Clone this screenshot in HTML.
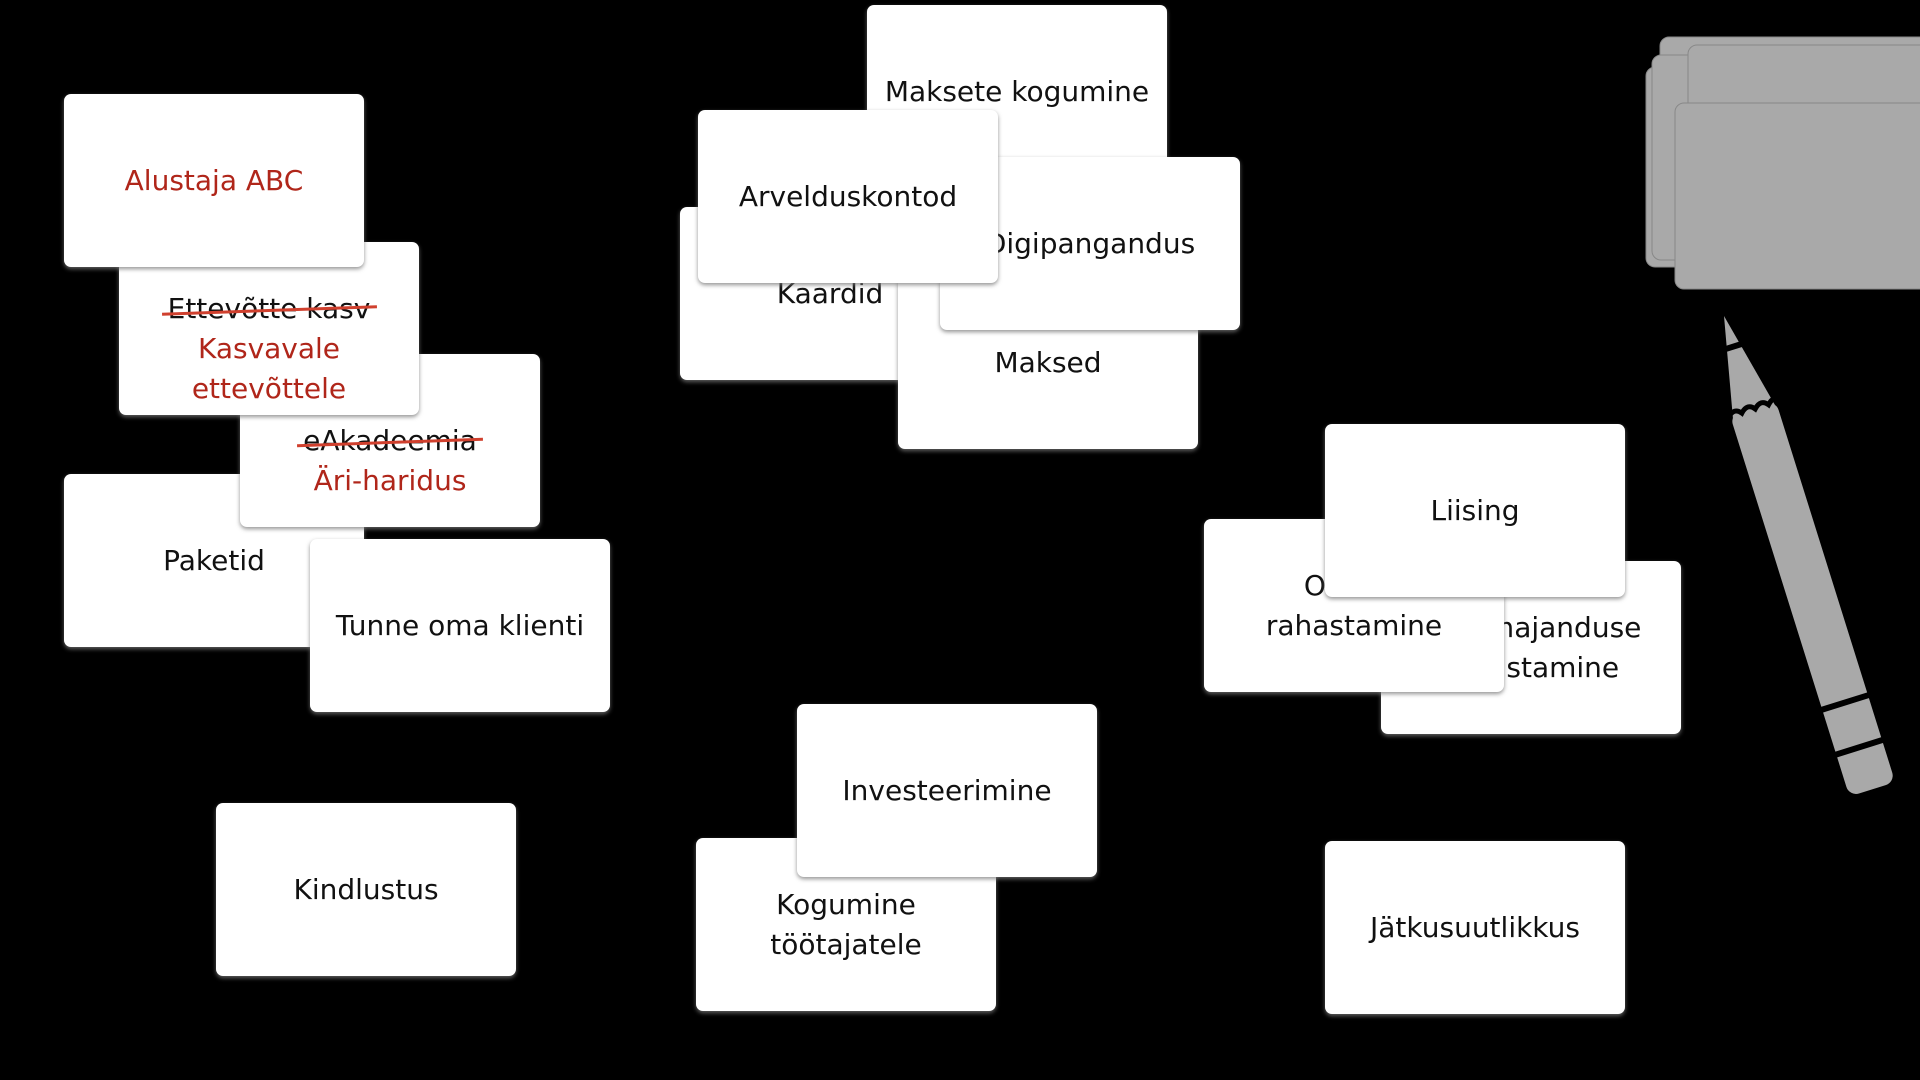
<!DOCTYPE html>
<html><head><meta charset="utf-8"><style>
body{margin:0;width:1920px;height:1080px;background:#000;position:relative;overflow:hidden;font-family:"Comic Sans MS","DejaVu Sans","Liberation Sans",sans-serif;}
.c{position:absolute;width:300px;height:173px;background:#fff;border-radius:7px;box-shadow:0 2px 4px rgba(120,120,120,.8);display:flex;align-items:center;justify-content:center;text-align:center;font-size:28px;line-height:40px;color:#111;}
.r{color:#b0261a}
.s{position:relative;display:inline-block}
.s:after{content:"";position:absolute;left:-6px;right:-6px;top:52%;height:3px;background:#d0402e;transform:rotate(-2deg)}
.d{padding-top:40px;box-sizing:border-box}
</style></head><body>
<div class="c" style="left:867px;top:5px;">Maksete kogumine</div>
<div class="c" style="left:680px;top:207px;">Kaardid</div>
<div class="c" style="left:898px;top:276px;">Maksed</div>
<div class="c" style="left:940px;top:157px;">Digipangandus</div>
<div class="c" style="left:698px;top:110px;">Arvelduskontod</div>

<div class="c" style="left:64px;top:474px;">Paketid</div>
<div class="c d" style="left:240px;top:354px;"><div><span class="s">eAkadeemia</span><br><span class="r">Äri-haridus</span></div></div>
<div class="c d" style="left:119px;top:242px;"><div><span class="s">Ettevõtte kasv</span><br><span class="r">Kasvavale<br>ettevõttele</span></div></div>
<div class="c r" style="left:64px;top:94px;">Alustaja ABC</div>
<div class="c" style="left:310px;top:539px;">Tunne oma klienti</div>
<div class="c" style="left:216px;top:803px;">Kindlustus</div>

<div class="c" style="left:696px;top:838px;">Kogumine<br>töötajatele</div>
<div class="c" style="left:797px;top:704px;">Investeerimine</div>

<div class="c" style="left:1381px;top:561px;">Põllumajanduse<br>rahastamine</div>
<div class="c" style="left:1204px;top:519px;">Ostude<br>rahastamine</div>
<div class="c" style="left:1325px;top:424px;">Liising</div>
<div class="c" style="left:1325px;top:841px;">Jätkusuutlikkus</div>

<svg width="1920" height="1080" style="position:absolute;left:0;top:0">
<g fill="#a9a9a9" stroke="#888" stroke-width="1">
<rect x="1660" y="37" width="280" height="200" rx="9"/>
<rect x="1646" y="67" width="290" height="200" rx="9"/>
<rect x="1652" y="55" width="290" height="205" rx="9"/>
<rect x="1688" y="45" width="260" height="190" rx="9"/>
<rect x="1675" y="103" width="270" height="186" rx="9"/>
</g>
<g transform="translate(1724,316) rotate(-17.4)">
<polygon points="0,0 -22,100 22,100" fill="#a9a9a9"/>
<line x1="-8" y1="32" x2="8" y2="32" stroke="#000" stroke-width="6"/>
<rect x="-24" y="96" width="48" height="400" rx="10" fill="#a9a9a9"/>
<path d="M-26,98 q8,-8 14,0 q8,-8 14,0 q8,-8 14,0 q8,-8 12,0" stroke="#000" stroke-width="5" fill="none"/>
<line x1="-26" y1="405" x2="26" y2="405" stroke="#000" stroke-width="6"/>
<line x1="-26" y1="452" x2="26" y2="452" stroke="#000" stroke-width="6"/>
</g>
</svg>
</body></html>
